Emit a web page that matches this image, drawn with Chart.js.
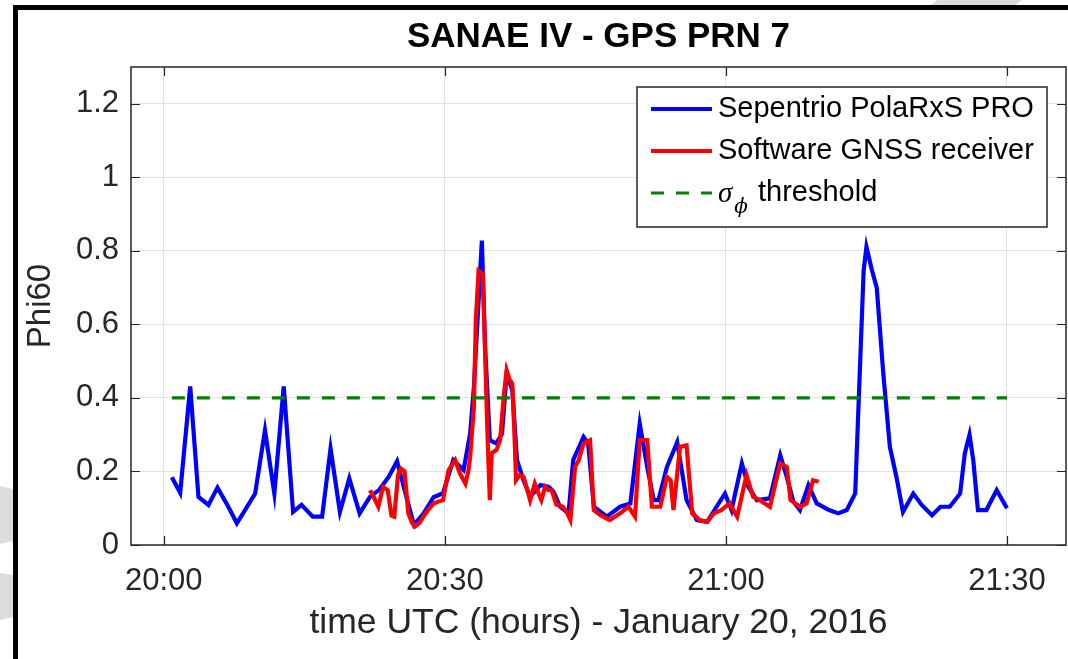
<!DOCTYPE html>
<html>
<head>
<meta charset="utf-8">
<script src="https://cdn.jsdelivr.net/npm/chart.js@4.4.1/dist/chart.umd.min.js"></script>
<style>
html,body{margin:0;padding:0;background:#fff;}
#wrap{position:relative;width:1068px;height:659px;}
canvas{display:block;}
</style>
</head>
<body>
<div id="wrap"><canvas id="c" width="1068" height="659"></canvas></div>
<script>
// ---------- data ----------
const chartTitle = 'SANAE IV - GPS PRN 7';
const xAxisTitle = 'time UTC (hours) - January 20, 2016';
const yAxisTitle = 'Phi60';
const seriesNames = ['Sepentrio PolaRxS PRO', 'Software GNSS receiver', 'threshold'];

// x values are minutes after 20:00 UTC
const xTickValues = [0, 30, 60, 90];
const xTickLabels = ['20:00', '20:30', '21:00', '21:30'];
const yTickValues = [0, 0.2, 0.4, 0.6, 0.8, 1.0, 1.2];
const yTickLabels = ['0', '0.2', '0.4', '0.6', '0.8', '1', '1.2'];

const septentrioTimes = [0.86,1.75,2.82,3.7,4.77,5.73,6.8,7.8,8.8,9.75,
  10.8,11.8,12.8,13.8,14.7,15.9,16.9,17.8,18.8,19.8,
  20.9,22.0,23.0,24.0,24.9,25.8,26.7,27.7,28.8,29.8,
  30.9,32.0,32.7,33.1,33.95,34.3,34.8,35.5,36.1,36.6,
  37.2,37.7,38.4,39.1,40.2,41.1,41.6,42.3,43.2,43.7,
  44.8,45.3,45.9,47.3,48.7,49.8,50.8,51.6,52.3,52.8,
  53.7,54.8,55.8,56.9,58.0,59.0,59.9,60.6,61.7,62.4,
  63.3,64.7,65.8,66.5,67.2,67.9,68.8,69.7,71.0,72.0,
  72.9,73.8,74.2,74.7,75.0,75.6,76.1,76.8,77.5,78.2,
  78.9,80.0,80.9,82.0,82.9,83.9,85.0,85.5,86.0,86.4,
  86.9,87.8,88.9,90.0];
const septentrioPhi60 = [0.184,0.142,0.431,0.131,0.109,0.156,0.108,0.059,0.10,0.140,
  0.312,0.14,0.431,0.09,0.109,0.077,0.077,0.262,0.09,0.181,
  0.086,0.131,0.15,0.185,0.228,0.14,0.055,0.085,0.13,0.141,
  0.231,0.204,0.303,0.43,0.828,0.538,0.285,0.276,0.303,0.466,
  0.421,0.231,0.176,0.131,0.163,0.158,0.145,0.104,0.086,0.231,
  0.294,0.276,0.104,0.077,0.104,0.113,0.33,0.212,0.122,0.122,
  0.212,0.28,0.122,0.068,0.063,0.104,0.140,0.095,0.222,0.158,
  0.122,0.127,0.244,0.185,0.118,0.095,0.163,0.113,0.095,0.086,
  0.095,0.14,0.41,0.746,0.811,0.746,0.70,0.466,0.267,0.185,
  0.09,0.14,0.109,0.081,0.104,0.104,0.14,0.249,0.30,0.231,
  0.095,0.095,0.149,0.10];

const softwareTimes = [22.0,22.4,22.9,23.4,23.9,24.3,24.6,25.0,25.3,25.7,
  26.1,26.5,26.8,27.3,27.7,28.2,28.8,29.3,29.8,30.4,
  31.1,31.6,32.2,32.5,32.7,33.1,33.3,33.6,34.05,34.3,
  34.55,34.8,35.0,35.5,35.9,36.3,36.6,36.9,37.2,37.4,
  37.6,38.0,38.4,38.8,39.1,39.6,40.0,40.3,40.7,41.0,
  41.4,41.9,42.6,43.0,43.4,43.9,44.3,44.8,45.5,45.9,
  46.6,47.6,48.7,49.6,50.3,50.8,51.6,52.1,53.0,53.7,
  54.1,54.4,55.1,55.8,56.4,57.2,58.0,58.7,59.5,60.4,
  61.2,62.2,62.9,63.6,64.7,65.8,66.5,66.9,67.9,68.6,
  69.3,69.9];
const softwarePhi60 = [0.149,0.131,0.104,0.158,0.149,0.08,0.077,0.19,0.208,0.20,
  0.086,0.06,0.05,0.06,0.077,0.095,0.113,0.118,0.122,0.204,
  0.231,0.195,0.167,0.2,0.24,0.375,0.61,0.746,0.737,0.52,
  0.3,0.122,0.25,0.258,0.285,0.41,0.475,0.45,0.439,0.321,
  0.176,0.19,0.185,0.15,0.122,0.167,0.14,0.122,0.158,0.15,
  0.149,0.11,0.104,0.09,0.068,0.212,0.231,0.276,0.285,0.095,
  0.081,0.068,0.086,0.104,0.077,0.285,0.285,0.104,0.104,0.185,
  0.176,0.095,0.267,0.271,0.086,0.068,0.063,0.086,0.095,0.113,
  0.077,0.19,0.131,0.122,0.104,0.222,0.212,0.122,0.104,0.113,
  0.176,0.172];

const thresholdTimes = [0.86, 90.0];
const thresholdPhi60 = [0.4, 0.4];

// ---------- helpers ----------
const FONT = "'Liberation Sans', Arial, Helvetica, sans-serif";
const toXY = (xs, ys) => xs.map((x, i) => ({x: x, y: ys[i]}));

const framePlugin = {
  id: 'frame',
  beforeDraw(chart) {
    const ctx = chart.ctx;
    ctx.save();
    ctx.fillStyle = '#ffffff';
    ctx.fillRect(0, 0, chart.width, chart.height);
    ctx.fillStyle = '#dcdcdf';
    ctx.beginPath(); ctx.moveTo(937, 0); ctx.lineTo(1022, 0); ctx.lineTo(1015, 5); ctx.lineTo(931, 5); ctx.closePath(); ctx.fill();
    ctx.beginPath(); ctx.moveTo(0, 486); ctx.lineTo(13, 489); ctx.lineTo(13, 541); ctx.lineTo(0, 544); ctx.closePath(); ctx.fill();
    ctx.beginPath(); ctx.moveTo(0, 573); ctx.lineTo(13, 575); ctx.lineTo(13, 617); ctx.lineTo(0, 620); ctx.closePath(); ctx.fill();
    ctx.fillStyle = '#000000';
    ctx.fillRect(13, 5, chart.width - 13, 5);
    ctx.fillRect(13, 5, 5, chart.height - 5);
    ctx.restore();
  }
};

const boxPlugin = {
  id: 'axbox',
  afterDatasetsDraw(chart) {
    const ctx = chart.ctx;
    const {left, right, top, bottom} = chart.chartArea;
    const xs = chart.scales.x, ys = chart.scales.y;
    ctx.save();
    ctx.strokeStyle = '#262626';
    ctx.lineWidth = 1.5;
    ctx.strokeRect(left, top, right - left, bottom - top);
    ctx.lineWidth = 1.2;
    ctx.beginPath();
    xTickValues.forEach(v => {
      const p = Math.round(xs.getPixelForValue(v)) + 0.5;
      ctx.moveTo(p, bottom); ctx.lineTo(p, bottom - 9);
      ctx.moveTo(p, top); ctx.lineTo(p, top + 9);
    });
    yTickValues.forEach(v => {
      const p = Math.round(ys.getPixelForValue(v)) + 0.5;
      ctx.moveTo(left, p); ctx.lineTo(left + 9, p);
      ctx.moveTo(right, p); ctx.lineTo(right - 9, p);
    });
    ctx.stroke();
    ctx.restore();
  }
};

const legendPlugin = {
  id: 'innerLegend',
  afterDraw(chart) {
    const ctx = chart.ctx;
    const ds = chart.data.datasets;
    const order = [2, 1, 0]; // blue, red, green datasets in legend order
    const bx = 637, by = 87, bw = 410, bh = 140;
    ctx.save();
    ctx.fillStyle = '#ffffff';
    ctx.fillRect(bx, by, bw, bh);
    ctx.strokeStyle = '#262626';
    ctx.lineWidth = 1.5;
    ctx.strokeRect(bx, by, bw, bh);
    const rows = [109, 151, 193];
    order.forEach((di, r) => {
      const d = ds[di];
      const y = rows[r];
      ctx.strokeStyle = d.borderColor;
      ctx.lineWidth = d.borderWidth;
      ctx.setLineDash(d.borderDash || []);
      ctx.beginPath(); ctx.moveTo(651, y); ctx.lineTo(712, y); ctx.stroke();
      ctx.setLineDash([]);
      ctx.fillStyle = '#000000';
      ctx.textBaseline = 'middle';
      ctx.textAlign = 'left';
      if (r < 2) {
        ctx.font = '29px ' + FONT;
        ctx.fillText(d.label, 718, y);
      } else {
        ctx.font = "italic 29px 'Liberation Serif', 'DejaVu Serif', serif";
        ctx.fillText('σ', 718, y + 1);
        const w1 = ctx.measureText('σ').width;
        ctx.font = "italic 20px 'DejaVu Serif', 'Liberation Serif', serif";
        ctx.fillText('\u03D5', 718 + w1 + 2, y + 15);
        const w2 = ctx.measureText('\u03D5').width;
        ctx.font = '29px ' + FONT;
        ctx.fillText(' ' + d.label, 718 + w1 + w2 + 4, y);
      }
    });
    ctx.restore();
  }
};

const chart = new Chart(document.getElementById('c'), {
  type: 'line',
  data: {
    datasets: [
      {
        label: seriesNames[2],
        data: toXY(thresholdTimes, thresholdPhi60),
        borderColor: '#008000',
        borderWidth: 3.2,
        borderDash: [13, 12],
        pointRadius: 0,
        tension: 0,
        fill: false
      },
      {
        label: seriesNames[1],
        data: toXY(softwareTimes, softwarePhi60),
        borderColor: '#ff0000',
        borderWidth: 4.2,
        pointRadius: 0,
        tension: 0,
        fill: false
      },
      {
        label: seriesNames[0],
        data: toXY(septentrioTimes, septentrioPhi60),
        borderColor: '#0000ff',
        borderWidth: 4.2,
        pointRadius: 0,
        tension: 0,
        fill: false
      }
    ]
  },
  options: {
    responsive: false,
    animation: false,
    devicePixelRatio: 1,
    layout: {padding: {left: 0, right: 2, top: 0, bottom: 0}},
    plugins: {
      legend: {display: false},
      tooltip: {enabled: false},
      title: {
        display: true,
        text: chartTitle,
        fullSize: false,
        color: '#000000',
        font: {family: FONT, size: 35, weight: 'bold', lineHeight: 1.2},
        padding: {top: 16, bottom: 9}
      }
    },
    scales: {
      x: {
        type: 'linear',
        min: -3.5,
        max: 96.3,
        afterBuildTicks: s => { s.ticks = xTickValues.map(v => ({value: v})); },
        afterFit: s => { s.height = 114; },
        ticks: {
          color: '#262626',
          font: {family: FONT, size: 31},
          padding: 18,
          maxRotation: 0,
          autoSkip: false,
          callback: (v) => { const i = xTickValues.indexOf(v); return i >= 0 ? xTickLabels[i] : ''; }
        },
        grid: {color: '#e2e2e2', lineWidth: 1, drawTicks: false},
        border: {display: false},
        title: {
          display: true,
          text: xAxisTitle,
          color: '#262626',
          font: {family: FONT, size: 35.5, lineHeight: 1.2},
          padding: {top: 0, bottom: 14}
        }
      },
      y: {
        type: 'linear',
        min: 0,
        max: 1.3,
        afterBuildTicks: s => { s.ticks = yTickValues.map(v => ({value: v})); },
        afterFit: s => { s.width = 131; },
        ticks: {
          color: '#262626',
          font: {family: FONT, size: 31},
          padding: 12,
          autoSkip: false,
          callback: (v) => { const i = yTickValues.findIndex(t => Math.abs(t - v) < 1e-9); return i >= 0 ? yTickLabels[i] : ''; }
        },
        grid: {color: '#e2e2e2', lineWidth: 1, drawTicks: false},
        border: {display: false},
        title: {
          display: true,
          text: yAxisTitle,
          color: '#262626',
          font: {family: FONT, size: 33, lineHeight: 1.2},
          padding: {top: 21, bottom: 0}
        }
      }
    }
  },
  plugins: [framePlugin, boxPlugin, legendPlugin]
});
</script>
</body>
</html>
